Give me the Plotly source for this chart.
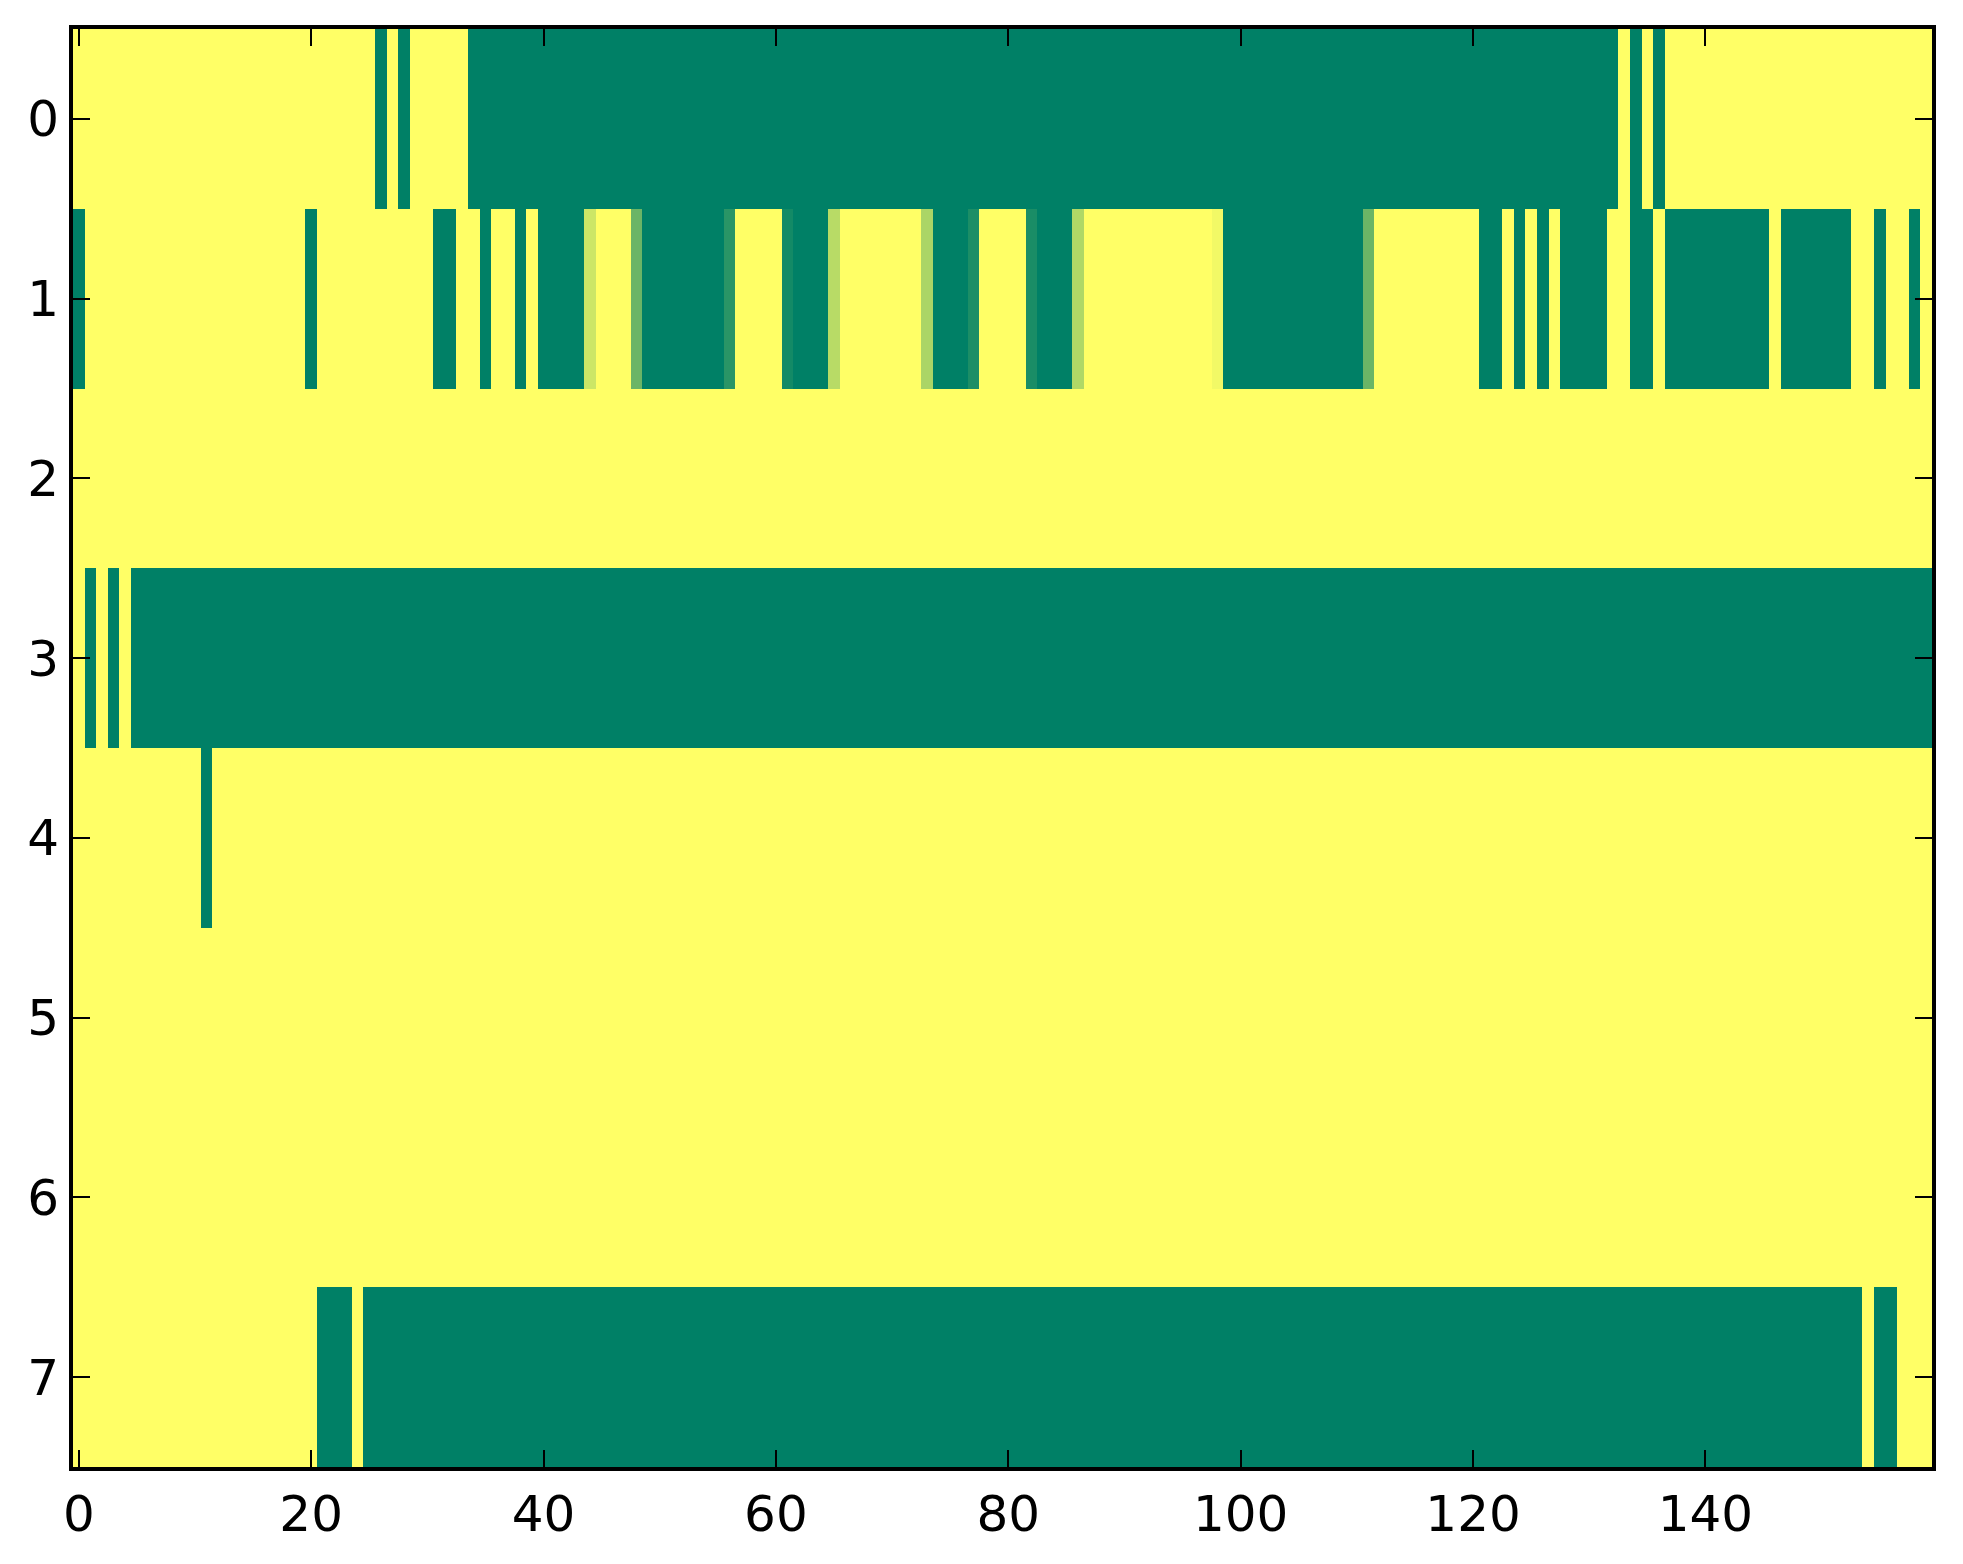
import plotly.graph_objects as go

n_cols = 160
row_labels = [0, 1, 2, 3, 4, 5, 6, 7]
x_ticks = [0, 20, 40, 60, 80, 100, 120, 140]

# Each row as runs of (first column, last column, value)
row0 = [(0, 25, 1), (26, 26, 0), (27, 27, 1), (28, 28, 0), (29, 33, 1),
        (34, 132, 0), (133, 133, 1), (134, 134, 0), (135, 135, 1),
        (136, 136, 0), (137, 159, 1)]
row1 = [(0, 0, 0), (1, 19, 1), (20, 20, 0), (21, 30, 1), (31, 32, 0),
        (33, 34, 1), (35, 35, 0), (36, 37, 1), (38, 38, 0), (39, 39, 1),
        (40, 43, 0), (44, 44, 0.8), (45, 47, 1), (48, 48, 0.42), (49, 55, 0),
        (56, 56, 0.165), (57, 60, 1), (61, 61, 0.075), (62, 64, 0),
        (65, 65, 0.72), (66, 72, 1), (73, 73, 0.67), (74, 76, 0),
        (77, 77, 0.11), (78, 81, 1), (82, 82, 0.1), (83, 85, 0),
        (86, 86, 0.69), (87, 97, 1), (98, 98, 0.95), (99, 110, 0),
        (111, 111, 0.42), (112, 120, 1), (121, 122, 0), (123, 123, 1),
        (124, 124, 0), (125, 125, 1), (126, 126, 0), (127, 127, 1),
        (128, 131, 0), (132, 133, 1), (134, 135, 0), (136, 136, 1),
        (137, 145, 0), (146, 146, 1), (147, 152, 0), (153, 154, 1),
        (155, 155, 0), (156, 157, 1), (158, 158, 0), (159, 159, 1)]
row2 = [(0, 159, 1)]
row3 = [(0, 0, 1), (1, 1, 0), (2, 2, 1), (3, 3, 0), (4, 4, 1), (5, 159, 0)]
row4 = [(0, 10, 1), (11, 11, 0), (12, 159, 1)]
row5 = [(0, 159, 1)]
row6 = [(0, 159, 1)]
row7 = [(0, 20, 1), (21, 23, 0), (24, 24, 1), (25, 153, 0), (154, 154, 1),
        (155, 156, 0), (157, 159, 1)]

rows = [row0, row1, row2, row3, row4, row5, row6, row7]
z = []
for runs in rows:
    vals = [None] * n_cols
    for a, b, v in runs:
        for c in range(a, b + 1):
            vals[c] = v
    z.append(vals)

summer = [[0.0, "rgb(0,128,102)"], [1.0, "rgb(255,255,102)"]]

fig = go.Figure(go.Heatmap(
    z=z, x=list(range(n_cols)), y=row_labels,
    colorscale=summer, zmin=0, zmax=1, showscale=False,
    zsmooth=False, hoverongaps=False,
))

axis_common = dict(
    showline=True, linecolor="black", linewidth=4, mirror="allticks",
    ticks="inside", ticklen=17, tickwidth=2, tickcolor="black",
    showgrid=False, zeroline=False,
    tickfont=dict(family="DejaVu Sans", size=50, color="black"),
)
fig.update_xaxes(range=[-0.5, 159.5], tickvals=x_ticks,
                 ticktext=[str(t) for t in x_ticks], **axis_common)
fig.update_yaxes(range=[7.5, -0.5], tickvals=row_labels,
                 ticktext=[str(t) for t in row_labels], **axis_common)

fig.update_layout(
    width=1955, height=1556,
    margin=dict(l=65, r=31, t=21, b=97),
    paper_bgcolor="white", plot_bgcolor="white",
)
fig.write_html("out.html")
